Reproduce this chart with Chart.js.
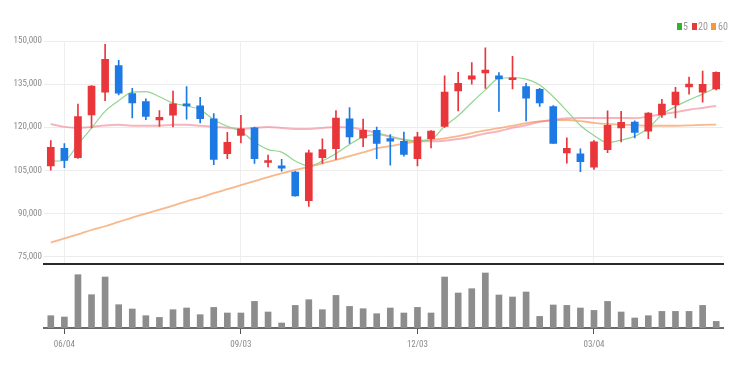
<!DOCTYPE html>
<html>
<head>
<meta charset="utf-8">
<script src="https://cdn.jsdelivr.net/npm/chart.js@4.4.1/dist/chart.umd.min.js"></script>
<style>
html,body{margin:0;padding:0;background:#fff;}
#wrap{position:relative;width:739px;height:369px;overflow:hidden;background:#fff;}
#price{position:absolute;left:0;top:0;}
#vol{position:absolute;left:0;top:267px;}
.lg{position:absolute;top:21px;height:12px;line-height:12px;font-family:'Liberation Sans Narrow','Arial Narrow','Roboto Condensed',sans-serif;font-size:10px;color:#999;white-space:nowrap;}
.sw{position:absolute;top:23px;width:5px;height:7px;}
</style>
</head>
<body>
<div id="wrap">
  <canvas id="price" width="739" height="271"></canvas>
  <canvas id="vol" width="739" height="102"></canvas>
  <span class="sw" style="left:677px;background:#2db52d"></span><span class="lg" style="left:683px">5</span>
  <span class="sw" style="left:692px;background:#e23b3b"></span><span class="lg" style="left:698px">20</span>
  <span class="sw" style="left:711px;background:#f5993a"></span><span class="lg" style="left:718px">60</span>
</div>
<script>
// ---- data ----
const categories = ["05/28","06/04","06/11","06/18","06/25","07/02","07/09","07/16","07/23","07/30",
  "08/06","08/13","08/20","08/27","09/03","09/10","09/17","09/24","10/01","10/08",
  "10/15","10/22","10/29","11/05","11/12","11/19","11/26","12/03","12/10","12/17",
  "12/24","12/31","01/07","01/14","01/21","01/28","02/04","02/11","02/18","02/25",
  "03/04","03/11","03/18","03/25","04/01","04/08","04/15","04/22","04/29","05/06"];
const tickLabels = ["06/04","09/03","12/03","03/04"];
const priceTicks = [75000, 90000, 105000, 120000, 135000, 150000];

const openP  = [106500,112600,109400,124300,132200,141400,131700,128900,122500,124200,
  128100,127400,122900,110800,117100,119800,107700,106500,104400,94400,
  109400,112500,122900,116300,118900,116000,115100,109000,116000,120300,
  132600,136700,138900,137900,136500,134100,133200,127200,111000,110700,
  106100,112200,119700,121800,118600,124300,127800,134000,132200,133300];
const highP  = [115300,114300,128000,134500,148800,143300,133500,129900,125800,132600,
  134100,130400,124700,118200,124100,120000,110300,108800,104600,112000,
  115900,125800,126800,122800,120000,117400,118300,118200,118800,137900,
  139100,142500,147600,139000,144700,135300,133500,127500,116300,112500,
  115300,125700,125500,122200,125100,129700,133900,137400,139500,139300];
const lowP   = [105000,105900,109100,119700,129200,131200,123200,122600,120300,120100,
  122800,121500,106900,109000,114500,107400,106200,104700,96000,92400,
  107400,108800,114300,113200,109000,106800,109900,106500,112800,119900,
  125700,135000,133500,125500,133300,122200,127200,114300,107500,104500,
  105300,111100,114900,116300,116000,123400,123200,131500,128700,133000];
const closeP = [113000,108400,123700,134300,143600,131800,128400,123700,123400,128100,
  127400,123000,108800,114700,119400,109000,108200,105700,96100,111100,
  112200,123200,116600,118900,114300,115100,110500,116600,118600,132200,
  135300,137900,139900,136800,137200,130100,128400,114300,112600,108000,
  114900,120600,121700,118200,124900,128000,132200,135000,134900,139100];

const ma5  = [108200,108400,114000,119700,125500,129200,132200,132400,130600,128400,
  127400,126100,122600,120300,118600,114800,112200,111300,108200,106500,
  108200,110800,114000,116600,117400,116900,115500,115200,115700,120300,
  124000,128600,133000,137000,137200,136700,134700,130600,125700,120600,
  117100,114600,115500,116800,119700,124300,127200,129500,131500,133800];
const ma20 = [121100,120100,119700,120100,120600,120800,120500,120500,120500,120800,
  120800,120500,120100,119800,119400,119700,120100,119700,119400,119400,
  119700,120100,119900,119100,118000,116600,115700,115100,115100,115300,
  115900,116700,117800,118600,119800,120700,121900,122600,123100,123200,
  123200,123200,123200,123100,123700,124500,125200,126100,126700,127400];
const ma60 = [79800,81300,82700,84200,85500,87000,88500,89900,91300,92700,
  94200,95500,97000,98400,99800,101200,102600,103900,105100,106200,
  107400,108600,109900,111200,112600,113400,114300,115100,115600,116100,
  116900,117900,118900,119700,120500,121400,122000,122400,122500,122100,
  121500,121100,120900,120700,120500,120500,120500,120600,120800,120900];
const volume = [123,110,533,333,510,233,190,123,106,183,
  200,133,206,150,150,266,160,50,226,283,
  183,326,216,193,143,200,150,206,150,510,
  350,393,550,330,310,360,116,230,226,200,
  176,266,160,100,123,166,166,166,226,66];

// ---- styling ----
const UP = '#e8363b', DOWN = '#1d79e4';
const FONT = "'Liberation Sans Narrow','Arial Narrow','Roboto Condensed',sans-serif";
const tickIdx = tickLabels.map(l => categories.indexOf(l));
const candleColors = categories.map((_, i) => closeP[i] >= openP[i] ? UP : DOWN);

new Chart(document.getElementById('price'), {
  type: 'bar',
  data: {
    labels: categories,
    datasets: [
      { type: 'bar', label: 'body', data: categories.map((_, i) => [openP[i], closeP[i]]),
        backgroundColor: candleColors, barThickness: 7, grouped: false, order: 0, minBarLength: 2, borderWidth: 0 },
      { type: 'bar', label: 'wick', data: categories.map((_, i) => [lowP[i], highP[i]]),
        backgroundColor: candleColors, barThickness: 1, grouped: false, order: 1, borderWidth: 0 },
      { type: 'line', label: '5', data: ma5, borderColor: '#90d690', borderWidth: 1.2,
        pointRadius: 0, cubicInterpolationMode: 'monotone', order: 2 },
      { type: 'line', label: '20', data: ma20, borderColor: 'rgba(236,120,135,0.55)', borderWidth: 2,
        pointRadius: 0, cubicInterpolationMode: 'monotone', order: 3 },
      { type: 'line', label: '60', data: ma60, borderColor: 'rgba(246,160,100,0.75)', borderWidth: 1.8,
        pointRadius: 0, cubicInterpolationMode: 'monotone', order: 4 }
    ]
  },
  options: {
    responsive: false, animation: false,
    layout: { padding: { top: 41, right: 16, left: 0, bottom: 0 } },
    plugins: { legend: { display: false }, tooltip: { enabled: false } },
    scales: {
      x: {
        offset: true,
        grid: { offset: false, color: '#eeeeee', drawTicks: false, lineWidth: 1 },
        border: { display: true, color: '#2a2a2a', width: 2 },
        ticks: { display: false, autoSkip: false },
        afterBuildTicks: s => { s.ticks = tickIdx.map(v => ({ value: v })); },
        afterFit: s => { s.height = 6; }
      },
      y: {
        min: 72500, max: 150000, bounds: 'data',
        afterBuildTicks: s => { s.ticks = priceTicks.map(v => ({ value: v })); },
        ticks: { padding: 2, color: '#8a8a8a', font: { family: FONT, size: 9 },
          callback: v => Number(v).toLocaleString('en-US') },
        grid: { color: '#ececec', drawTicks: false, lineWidth: 1 },
        border: { display: false },
        afterFit: s => { s.width = 44; }
      }
    }
  }
});

new Chart(document.getElementById('vol'), {
  type: 'bar',
  data: {
    labels: categories,
    datasets: [{ label: 'volume', data: volume, backgroundColor: '#8d8d8d', barThickness: 6, borderWidth: 0 }]
  },
  options: {
    responsive: false, animation: false,
    layout: { padding: { top: 1, left: 44, right: 16, bottom: 0 } },
    plugins: { legend: { display: false }, tooltip: { enabled: false } },
    scales: {
      x: {
        offset: true,
        grid: { offset: false, drawOnChartArea: false, drawTicks: true, tickLength: 6, color: '#555', tickWidth: 1 },
        border: { display: true, color: '#6a6a6a', width: 2 },
        ticks: { padding: 5, color: '#8a8a8a', font: { family: FONT, size: 9 }, autoSkip: false, maxRotation: 0 },
        afterBuildTicks: s => { s.ticks = tickIdx.map(v => ({ value: v })); },
        afterFit: s => { s.height = 41; }
      },
      y: { display: false, min: 0, max: 600 }
    }
  }
});
</script>
</body>
</html>
